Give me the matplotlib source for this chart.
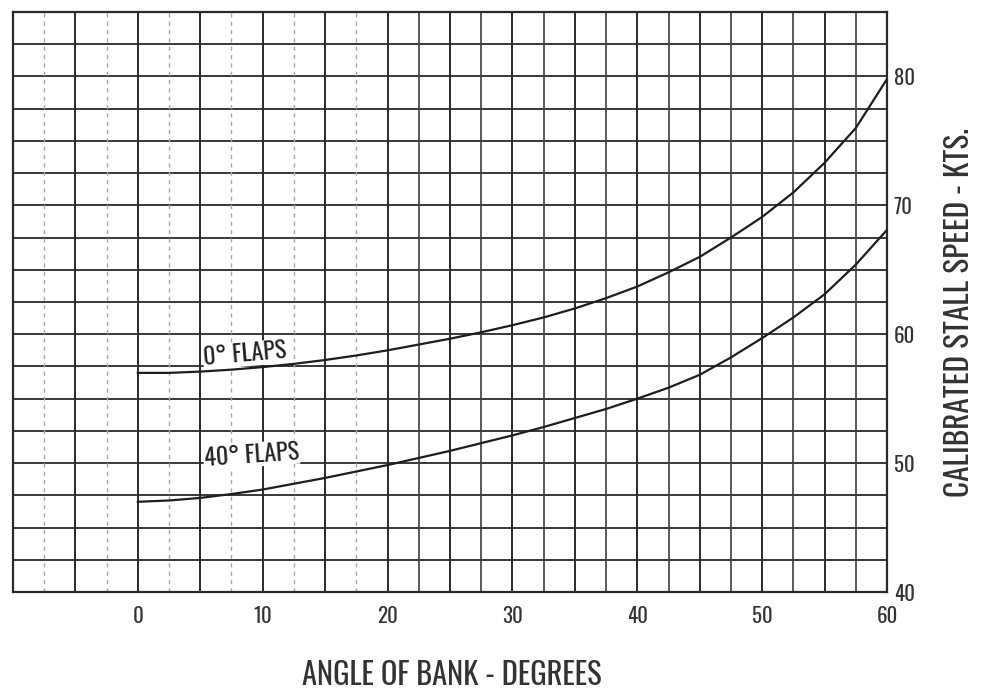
import matplotlib
matplotlib.use("Agg")
import matplotlib.pyplot as plt
import numpy as np

# ---- data ----
bank_angle = [0, 2.5, 5, 7.5, 10, 12.5, 15, 17.5, 20, 22.5, 25, 27.5, 30, 32.5, 35,
              37.5, 40, 42.5, 45, 47.5, 50, 52.5, 55, 57.5, 60]
flaps0 = [57.0, 57.0, 57.1, 57.25, 57.45, 57.7, 58.0, 58.35, 58.75, 59.2, 59.65, 60.15,
          60.7, 61.3, 62.0, 62.8, 63.7, 64.8, 66.0, 67.5, 69.1, 71.0, 73.3, 76.0, 79.8]
flaps40 = [47.0, 47.1, 47.3, 47.6, 47.95, 48.4, 48.85, 49.35, 49.85, 50.4, 50.95, 51.55,
           52.15, 52.8, 53.5, 54.2, 55.0, 55.85, 56.85, 58.2, 59.7, 61.3, 63.1, 65.4, 68.1]

x_ticks = [0, 10, 20, 30, 40, 50, 60]
y_ticks = [40, 50, 60, 70, 80]
x_label = "ANGLE OF BANK - DEGREES"
y_label = "CALIBRATED STALL SPEED - KTS."
label0 = "0° FLAPS"
label40 = "40° FLAPS"

FONT = ["Oswald", "Roboto Condensed", "Liberation Sans Narrow", "DejaVu Sans"]
plt.rcParams["font.family"] = FONT

fig = plt.figure(figsize=(9.82, 6.92), dpi=100)
ax = fig.add_axes([0.0132, 0.1445, 0.8901, 0.8382])
ax.set_xlim(-10, 60)
ax.set_ylim(40, 85)

dark = "#2a2a2a"
# horizontal grid every 2.5
for y in np.arange(40, 85.01, 2.5):
    ax.axhline(y, color=dark, lw=1.3, zorder=1)
# vertical grid
for x in np.arange(-10, 60.01, 2.5):
    if abs(x % 5) < 1e-9:
        ax.axvline(x, color=dark, lw=1.4, zorder=1)
    elif x < 20:
        ax.axvline(x, color="#a8a8a8", lw=1.0, ls=(0, (3, 3)), zorder=1)
    else:
        ax.axvline(x, color="#404040", lw=1.2, zorder=1)

ax.plot(bank_angle, flaps0, color="#1e1e1e", lw=1.6, zorder=5)
ax.plot(bank_angle, flaps40, color="#1e1e1e", lw=1.6, zorder=5)

ax.text(8.6, 58.45, label0, fontsize=17.5, color="#222",
        ha="center", va="center", rotation=5, zorder=4,
        bbox=dict(facecolor="white", edgecolor="none", pad=0.5))
ax.text(9.1, 50.65, label40, fontsize=17.5, color="#222",
        ha="center", va="center", rotation=4, zorder=4,
        bbox=dict(facecolor="white", edgecolor="none", pad=0.5))

for s in ax.spines.values():
    s.set_color(dark)
    s.set_linewidth(1.6)

ax.set_xticks(x_ticks)
ax.set_xticklabels([str(v) for v in x_ticks])
ax.set_yticks(y_ticks)
ax.set_yticklabels([str(v) for v in y_ticks])
ax.yaxis.tick_right()
ax.tick_params(axis="both", length=0, labelsize=15, colors="#333")
ax.tick_params(axis="x", pad=10)
ax.tick_params(axis="y", pad=5)

fig.text(0.460, 0.010, x_label, fontsize=22, color="#333", ha="center", va="baseline")
fig.text(0.977, 0.549, y_label, fontsize=22.5, color="#333", ha="center", va="center",
         rotation=90)

fig.savefig("out.png", dpi=100, facecolor="white")
